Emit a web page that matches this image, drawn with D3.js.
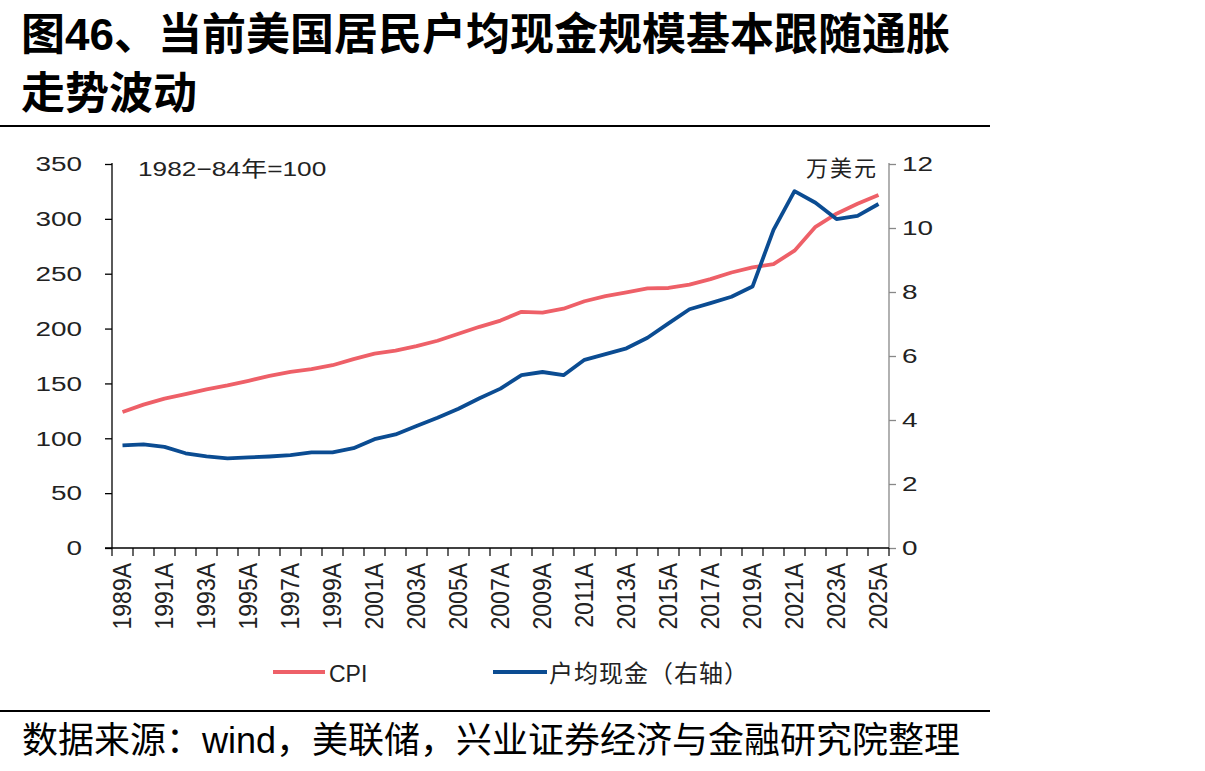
<!DOCTYPE html>
<html><head><meta charset="utf-8">
<script src="https://cdn.jsdelivr.net/npm/d3@7"></script>
<style>
body{margin:0;background:#fff;}
svg{display:block;}
text{font-family:"Liberation Sans","Noto Sans CJK SC",sans-serif;}
</style></head>
<body><svg id="c" width="1205" height="771"></svg>
<script>
const years = d3.range(1989, 2026).map(y => y + "A");
const cpi = [124.0,130.7,136.2,140.3,144.5,148.2,152.4,156.9,160.5,163.0,166.6,172.2,177.1,179.9,184.0,188.9,195.3,201.6,207.3,215.3,214.5,218.1,224.9,229.6,233.0,236.7,237.0,240.0,245.1,251.1,255.7,258.8,271.0,292.7,304.7,313.7,321.8];
const cash = [3.21,3.24,3.16,2.96,2.86,2.80,2.83,2.86,2.90,2.99,2.99,3.12,3.40,3.55,3.81,4.07,4.35,4.68,4.98,5.40,5.50,5.40,5.88,6.06,6.24,6.57,7.02,7.46,7.65,7.85,8.17,9.94,11.15,10.79,10.28,10.38,10.75];
const leftTicks = [0,50,100,150,200,250,300,350];
const rightTicks = [0,2,4,6,8,10,12];
const labelYears = years.filter((d,i) => i % 2 === 0);

const svg = d3.select("#c");
const L = 112, R = 889, T = 164, B = 548;
const SX = 1.33; // horizontal stretch of the numeric labels
const x = d3.scaleBand().domain(years).range([L, R]);
const yL = d3.scaleLinear().domain([0, 350]).range([B, T]);
const yR = d3.scaleLinear().domain([0, 12]).range([B, T]);
const cx = d => x(d) + x.bandwidth() / 2;

// title
const title = svg.append("g").attr("font-weight", "bold").attr("font-size", 44).attr("fill", "#000");
title.append("text").attr("x", 21).attr("y", 50).text("图46、当前美国居民户均现金规模基本跟随通胀");
title.append("text").attr("x", 21).attr("y", 109).text("走势波动");
svg.append("line").attr("x1", 0).attr("x2", 990).attr("y1", 126).attr("y2", 126).attr("stroke", "#000").attr("stroke-width", 2);

// left axis
const gl = svg.append("g").attr("transform", `translate(${L},0)`)
  .call(d3.axisLeft(yL).tickValues(leftTicks).tickSize(7).tickPadding(0));
gl.selectAll("path,line").attr("stroke", "#000").attr("stroke-width", 1.3);
gl.select(".domain").attr("d", `M0,${T-1}V${B}`);
gl.selectAll("text").attr("font-size", 21).attr("fill", "#222").style("font-family", "Liberation Sans")
  .attr("x", null).attr("transform", `translate(-30,0) scale(${SX},1)`);

// right axis
const gr = svg.append("g").attr("transform", `translate(${R},0)`)
  .call(d3.axisRight(yR).tickValues(rightTicks).tickSize(7).tickPadding(0));
gr.selectAll("path,line").attr("stroke", "#888").attr("stroke-width", 1.3);
gr.select(".domain").attr("d", `M0,${T-1}V${B}`);
gr.selectAll("text").attr("font-size", 21).attr("fill", "#222").style("font-family", "Liberation Sans")
  .attr("x", null).attr("transform", `translate(13,0) scale(${SX},1)`);

// bottom axis
const bx = svg.append("g").attr("transform", `translate(0,${B})`);
bx.append("line").attr("x1", L - 7).attr("x2", R).attr("stroke", "#000").attr("stroke-width", 1.3);
const bounds = years.map(d => x(d)).concat([R]);
bx.selectAll("line.t").data(bounds).enter().append("line").attr("class", "t")
  .attr("x1", d => d).attr("x2", d => d).attr("y1", 0).attr("y2", 8).attr("stroke", "#000").attr("stroke-width", 1.2);
bx.selectAll("text").data(labelYears).enter().append("text")
  .attr("transform", d => `translate(${cx(d) + 8},15) scale(1.15,1) rotate(-90)`)
  .attr("text-anchor", "end").attr("font-size", 23).attr("fill", "#222").text(d => d);

// annotations
svg.append("text").attr("transform", "translate(138,176) scale(1.25,1)").attr("font-size", 21).attr("fill", "#222").text("1982−84年=100");
svg.append("text").attr("x", 878).attr("y", 176).attr("text-anchor", "end").attr("font-size", 22)
  .attr("letter-spacing", 2).attr("fill", "#222").text("万美元");

// lines
const lineL = d3.line().x((d,i) => cx(years[i])).y(d => yL(d));
const lineR = d3.line().x((d,i) => cx(years[i])).y(d => yR(d));
svg.append("path").datum(cpi).attr("d", lineL).attr("fill", "none").attr("stroke", "#EE6068").attr("stroke-width", 3.8).attr("stroke-linejoin", "round");
svg.append("path").datum(cash).attr("d", lineR).attr("fill", "none").attr("stroke", "#0B4C92").attr("stroke-width", 3.8).attr("stroke-linejoin", "round");

// legend
const lg = svg.append("g").attr("font-size", 23).attr("fill", "#222");
lg.append("line").attr("x1", 273).attr("x2", 325).attr("y1", 672).attr("y2", 672).attr("stroke", "#EE6068").attr("stroke-width", 4);
lg.append("text").attr("x", 329).attr("y", 682).text("CPI");
lg.append("line").attr("x1", 493).attr("x2", 547).attr("y1", 672).attr("y2", 672).attr("stroke", "#0B4C92").attr("stroke-width", 4);
lg.append("text").attr("x", 549).attr("y", 682).attr("font-size", 24).attr("letter-spacing", 1).text("户均现金（右轴）");

// footer
svg.append("line").attr("x1", 0).attr("x2", 990).attr("y1", 711).attr("y2", 711).attr("stroke", "#000").attr("stroke-width", 2);
svg.append("text").attr("x", 22).attr("y", 753).attr("font-size", 36).attr("fill", "#000").text("数据来源：wind，美联储，兴业证券经济与金融研究院整理");
</script></body></html>
